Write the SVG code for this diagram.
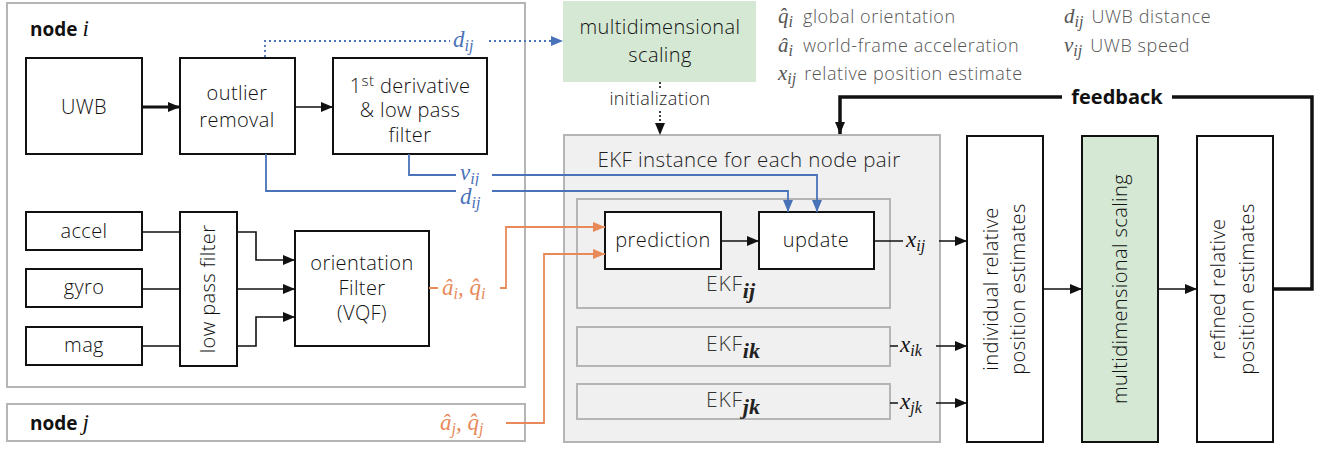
<svg xmlns="http://www.w3.org/2000/svg" width="1323" height="449" viewBox="0 0 1323 449">
<style>
.t{font-family:"Open Sans",Lato,"Liberation Sans",sans-serif;font-size:20px;font-weight:300;letter-spacing:0.4px;fill:#111;text-anchor:middle}
.lg{font-family:"Open Sans",Lato,"Liberation Sans",sans-serif;font-size:18px;font-weight:300;letter-spacing:0.6px;fill:#555}
.m{font-family:"Liberation Serif","DejaVu Serif",serif;font-style:italic;font-size:23px;letter-spacing:0}
.s{font-size:16px}
.box{fill:#fff;stroke:#111;stroke-width:2}
.cont{fill:#fff;stroke:#b5b5b5;stroke-width:2}
.gbox{fill:#f0f0f0;stroke:#b5b5b5;stroke-width:2}
.green{fill:#d5e8d4}
.k{fill:none;stroke:#111;stroke-width:1.6}
.blue{fill:none;stroke:#4a72b8;stroke-width:1.8}
.orange{fill:none;stroke:#e8895a;stroke-width:1.8}
.ekf{font-family:"Open Sans",Lato,sans-serif;font-size:21px;font-weight:300;letter-spacing:0.8px;fill:#333}
.hd{font-family:"Open Sans",Lato,sans-serif;font-size:19px;font-weight:700;fill:#111}
.bold{font-weight:700}
</style>
<defs>
<marker id="ak" viewBox="0 0 12 10" refX="12" refY="5" markerWidth="12" markerHeight="10" markerUnits="userSpaceOnUse" orient="auto"><path d="M0,0L12,5L0,10z" fill="#111"/></marker>
<marker id="ab" viewBox="0 0 12 10" refX="12" refY="5" markerWidth="12" markerHeight="10" markerUnits="userSpaceOnUse" orient="auto"><path d="M0,0L12,5L0,10z" fill="#4a72b8"/></marker>
<marker id="ao" viewBox="0 0 12 10" refX="12" refY="5" markerWidth="12" markerHeight="10" markerUnits="userSpaceOnUse" orient="auto"><path d="M0,0L12,5L0,10z" fill="#e8895a"/></marker>
</defs>
<rect width="1323" height="449" fill="#fff"/>

<g id="node-i">
<rect class="cont" x="7" y="3" width="518" height="384"/>
<text class="hd" x="30" y="36">node <tspan class="m" style="font-weight:400">i</tspan></text>
</g>
<g id="node-j">
<rect class="cont" x="7" y="404" width="518" height="37"/>
<text class="hd" x="30" y="430">node <tspan class="m" style="font-weight:400">j</tspan></text>
</g>
<g id="ekf-instance">
<rect class="gbox" x="564" y="135" width="376" height="307"/>
<text class="t" x="749" y="167" style="fill:#222;font-size:20.5px">EKF instance for each node pair</text>
</g>
<g id="ekf-ij">
<rect class="gbox" x="577" y="199" width="313" height="109"/>
<text class="ekf" x="706" y="291">EKF<tspan class="m bold" dy="7" style="font-size:22px;fill:#222">ij</tspan></text>
</g>
<g id="ekf-ik">
<rect class="gbox" x="577" y="327" width="313" height="39"/>
<text class="ekf" x="706" y="351">EKF<tspan class="m bold" dy="7" style="font-size:22px;fill:#222">ik</tspan></text>
</g>
<g id="ekf-jk">
<rect class="gbox" x="577" y="384" width="313" height="35"/>
<text class="ekf" x="706" y="407">EKF<tspan class="m bold" dy="7" style="font-size:22px;fill:#222">jk</tspan></text>
</g>

<g id="uwb"><rect class="box" x="26" y="58" width="116" height="96"/><text class="t" x="84" y="114">UWB</text></g>
<g id="outlier"><rect class="box" x="180" y="58" width="115" height="96"/><text class="t" x="237" y="100">outlier</text><text class="t" x="237" y="127">removal</text></g>
<g id="derivative"><rect class="box" x="333" y="58" width="154" height="96"/><text class="t" x="410" y="93">1<tspan dy="-7" font-size="15">st</tspan><tspan dy="7"> derivative</tspan></text><text class="t" x="410" y="117">&amp; low pass</text><text class="t" x="410" y="142">filter</text></g>
<g id="mds-init"><rect class="green" x="563" y="1" width="193" height="81"/><text class="t" x="660" y="34">multidimensional</text><text class="t" x="660" y="62">scaling</text></g>
<g id="accel"><rect class="box" x="26" y="212" width="116" height="38"/><text class="t" x="84" y="238">accel</text></g>
<g id="gyro"><rect class="box" x="26" y="269" width="116" height="38"/><text class="t" x="84" y="294">gyro</text></g>
<g id="mag"><rect class="box" x="26" y="327" width="116" height="38"/><text class="t" x="84" y="352">mag</text></g>
<g id="lpf"><rect class="box" x="180" y="212" width="57" height="154"/><text class="t" transform="translate(215,289) rotate(-90)">low pass filter</text></g>
<g id="orientation"><rect class="box" x="295" y="231" width="134" height="115"/><text class="t" x="362" y="270">orientation</text><text class="t" x="362" y="295">Filter</text><text class="t" x="362" y="320">(VQF)</text></g>
<g id="prediction"><rect class="box" x="605" y="212" width="116" height="57"/><text class="t" x="663" y="247">prediction</text></g>
<g id="update"><rect class="box" x="759" y="212" width="115" height="57"/><text class="t" x="816" y="247">update</text></g>
<g id="individual"><rect class="box" x="967" y="136" width="76" height="306"/><text class="t" transform="translate(998,289) rotate(-90)">individual relative</text><text class="t" transform="translate(1025,289) rotate(-90)">position estimates</text></g>
<g id="mds"><rect class="box" x="1082" y="136" width="76" height="306" style="fill:#d5e8d4"/><text class="t" transform="translate(1127,289) rotate(-90)">multidimensional scaling</text></g>
<g id="refined"><rect class="box" x="1197" y="136" width="76" height="306"/><text class="t" transform="translate(1225,289) rotate(-90)">refined relative</text><text class="t" transform="translate(1254,289) rotate(-90)">position estimates</text></g>

<g id="legend">
<text class="lg" x="778" y="23"><tspan class="m" style="font-size:21px;fill:#555">q̂<tspan class="s" dy="4">i</tspan></tspan><tspan dy="-4" dx="10">global orientation</tspan></text>
<text class="lg" x="778" y="52"><tspan class="m" style="font-size:21px;fill:#555">â<tspan class="s" dy="4">i</tspan></tspan><tspan dy="-4" dx="10">world-frame acceleration</tspan></text>
<text class="lg" x="778" y="80"><tspan class="m" style="font-size:21px;fill:#555">x<tspan class="s" dy="4">ij</tspan></tspan><tspan dy="-4" dx="8">relative position estimate</tspan></text>
<text class="lg" x="1064" y="23"><tspan class="m" style="font-size:21px;fill:#555">d<tspan class="s" dy="4">ij</tspan></tspan><tspan dy="-4" dx="8">UWB distance</tspan></text>
<text class="lg" x="1064" y="52"><tspan class="m" style="font-size:21px;fill:#555">v<tspan class="s" dy="4">ij</tspan></tspan><tspan dy="-4" dx="8">UWB speed</tspan></text>
</g>

<g id="connectors">
<path d="M142,107H180" fill="none" stroke="#111" stroke-width="3" marker-end="url(#ak)"/>
<path class="k" d="M295,107H333" marker-end="url(#ak)"/>
<path class="blue" d="M265,57V41H563" stroke-dasharray="2,3" marker-end="url(#ab)"/>
<path class="blue" d="M266,154V191H788V212" marker-end="url(#ab)"/>
<path class="blue" d="M409,154V175H817V212" marker-end="url(#ab)"/>
<path class="k" d="M142,232H180M142,289H180M142,346H180"/>
<path class="k" d="M237,232H256V260H295" marker-end="url(#ak)"/>
<path class="k" d="M237,289H295" marker-end="url(#ak)"/>
<path class="k" d="M237,346H256V317H295" marker-end="url(#ak)"/>
<path class="orange" d="M429,288H506V227H605" marker-end="url(#ao)"/>
<path class="orange" d="M506,423H544V254H605" marker-end="url(#ao)"/>
<path class="k" d="M721,241H759" stroke-width="2" marker-end="url(#ak)"/>
<path class="k" d="M874,241H967" stroke-width="2" marker-end="url(#ak)"/>
<path class="k" d="M890,346H967" stroke-width="2" marker-end="url(#ak)"/>
<path class="k" d="M890,403H967" stroke-width="2" marker-end="url(#ak)"/>
<path class="k" d="M1043,289H1082" stroke-width="2" marker-end="url(#ak)"/>
<path class="k" d="M1158,289H1197" stroke-width="2" marker-end="url(#ak)"/>
<path d="M1273,289H1312V97H840V134" fill="none" stroke="#111" stroke-width="3.5" marker-end="url(#ak)"/>
<path class="k" d="M660,82V93M660,107V135" stroke-dasharray="2,2" marker-end="url(#ak)"/>
</g>

<g id="labels">
<rect x="450" y="30" width="36" height="22" fill="#fff"/>
<text class="m" x="453" y="47" fill="#4a72b8">d<tspan class="s" dy="4">ij</tspan></text>
<rect x="456" y="166" width="36" height="18" fill="#fff"/>
<text class="m" x="460" y="180" fill="#4a72b8">v<tspan class="s" dy="4">ij</tspan></text>
<rect x="456" y="186" width="36" height="22" fill="#fff"/>
<text class="m" x="460" y="204" fill="#4a72b8">d<tspan class="s" dy="4">ij</tspan></text>
<rect x="438" y="274" width="62" height="28" fill="#fff"/>
<text class="m" x="442" y="295" fill="#e8895a">â<tspan class="s" dy="4">i</tspan><tspan dy="-4">, q̂</tspan><tspan class="s" dy="4">i</tspan></text>
<text class="m" x="440" y="430" fill="#e8895a">â<tspan class="s" dy="4">j</tspan><tspan dy="-4">, q̂</tspan><tspan class="s" dy="4">j</tspan></text>
<rect x="903" y="229" width="36" height="24" fill="#f0f0f0"/>
<text class="m" x="906" y="247" fill="#111">x<tspan class="s" dy="4">ij</tspan></text>
<rect x="898" y="335" width="38" height="24" fill="#f0f0f0"/>
<text class="m" x="900" y="352" fill="#111">x<tspan class="s" dy="4">ik</tspan></text>
<rect x="898" y="392" width="38" height="24" fill="#f0f0f0"/>
<text class="m" x="900" y="409" fill="#111">x<tspan class="s" dy="4">jk</tspan></text>
<rect x="600" y="89" width="120" height="20" fill="#fff"/>
<text class="t" x="660" y="105" style="font-size:18px;fill:#222">initialization</text>
<rect x="1062" y="86" width="110" height="24" fill="#fff"/>
<text class="hd" x="1117" y="104" text-anchor="middle" style="font-size:20px">feedback</text>
</g>
</svg>
